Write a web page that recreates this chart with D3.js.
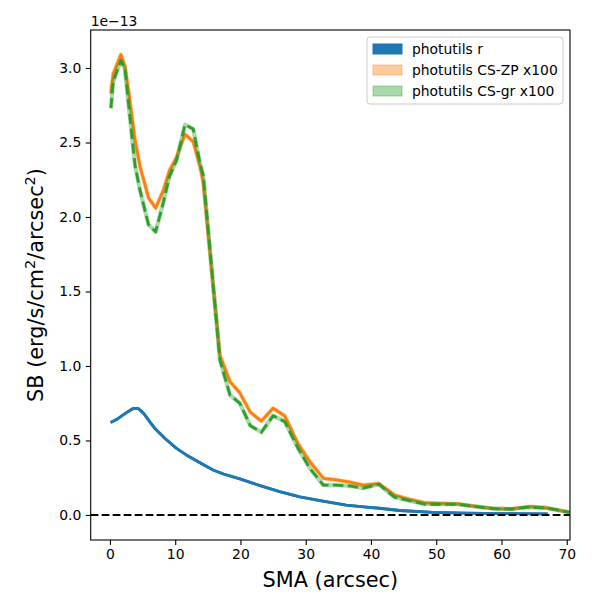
<!DOCTYPE html>
<html>
<head>
<meta charset="utf-8">
<script src="https://cdn.jsdelivr.net/npm/d3@7"></script>
<style>
  body { margin: 0; background: #fff; }
  text { font-family: "DejaVu Sans", sans-serif; fill: #000; }
</style>
</head>
<body>
<svg id="chart" width="600" height="600"></svg>
<script>
// surface brightness profiles, values in units of 1e-13
var smaR = [0.1, 1.0, 2.3, 3.6, 4.3, 5.2, 6.2, 6.9, 8.4, 10.2, 11.7, 13.8, 15.8, 17.4, 19.9,
            23.0, 26.0, 29.1, 32.2, 36.2, 39.3, 41.3, 44.4, 49.5, 54.6, 60.0, 67.1];
var sbR = [0.62, 0.64, 0.68, 0.716, 0.716, 0.68, 0.62, 0.58, 0.515, 0.447, 0.403, 0.351, 0.302, 0.275, 0.242,
           0.197, 0.157, 0.122, 0.096, 0.066, 0.053, 0.045, 0.03, 0.018, 0.012, 0.009, 0.007];

var smaCS = [0.15, 0.5, 1.68, 2.3, 3.06, 3.83, 4.6, 5.9, 7.0, 8.2, 9.1, 10.2, 11.5, 12.76, 13.8, 14.3,
             16.85, 18.4, 19.9, 21.5, 23.2, 25.0, 26.8, 28.8, 30.6, 32.7, 34.7, 36.8, 38.8, 41.2,
             43.6, 45.9, 48.2, 50.6, 53.3, 56.2, 59.0, 61.5, 64.3, 66.9, 70.4];
var sbZP = [2.83, 2.96, 3.09, 3.01, 2.78, 2.52, 2.34, 2.13, 2.06, 2.18, 2.31, 2.40, 2.555, 2.505, 2.34, 2.23,
            1.07, 0.895, 0.82, 0.69, 0.63, 0.716, 0.664, 0.48, 0.36, 0.246, 0.235, 0.22, 0.20, 0.21,
            0.134, 0.105, 0.083, 0.078, 0.074, 0.056, 0.042, 0.04, 0.056, 0.047, 0.018];
var sbGR = [2.73, 2.91, 3.05, 2.99, 2.67, 2.35, 2.18, 1.95, 1.90, 2.10, 2.27, 2.38, 2.62, 2.59, 2.36, 2.28,
            1.04, 0.805, 0.75, 0.60, 0.555, 0.666, 0.626, 0.45, 0.315, 0.20, 0.20, 0.195, 0.18, 0.206,
            0.119, 0.096, 0.072, 0.072, 0.072, 0.056, 0.042, 0.04, 0.053, 0.047, 0.018];

var xTicks = [0, 10, 20, 30, 40, 50, 60, 70];
var yTicks = [0.0, 0.5, 1.0, 1.5, 2.0, 2.5, 3.0];
var legendLabels = ["photutils r", "photutils CS-ZP x100", "photutils CS-gr x100"];

var axL = 90.7, axR = 570, axT = 30, axB = 540;
var svg = d3.select("#chart");

var x = d3.scaleLinear().domain([-2.95, 70.5]).range([axL, axR]);
var y = d3.scaleLinear().domain([-0.168, 3.255]).range([axB, axT]);

svg.append("clipPath").attr("id", "clip")
  .append("rect")
    .attr("x", axL).attr("y", axT)
    .attr("width", axR - axL).attr("height", axB - axT);

var plot = svg.append("g").attr("clip-path", "url(#clip)");

var line = d3.line()
  .x(function(d) { return x(d[0]); })
  .y(function(d) { return y(d[1]); });

var series = [
  {sma: smaR, sb: sbR, color: "#1f77b4", band: 1.0, bandW: 2.8, dash: null},
  {sma: smaCS, sb: sbZP, color: "#ff7f0e", band: 0.4, bandW: 4.2, dash: null},
  {sma: smaCS, sb: sbGR, color: "#2ca02c", band: 0.4, bandW: 4.2, dash: "10.3,4.5"}
];

series.forEach(function(s) {
  var pts = d3.zip(s.sma, s.sb);
  // thin error band under the line
  plot.append("path")
    .datum(pts)
    .attr("d", line)
    .style("fill", "none")
    .style("stroke", s.color)
    .style("stroke-opacity", s.band)
    .style("stroke-width", s.bandW)
    .style("stroke-linejoin", "round");
  plot.append("path")
    .datum(pts)
    .attr("d", line)
    .style("fill", "none")
    .style("stroke", s.color)
    .style("stroke-width", 2.8)
    .style("stroke-dasharray", s.dash)
    .style("stroke-linejoin", "round");
});

// zero line
plot.append("line")
  .attr("x1", axL).attr("x2", axR)
  .attr("y1", y(0)).attr("y2", y(0))
  .style("stroke", "#000")
  .style("stroke-width", 2.1)
  .style("stroke-dasharray", "7.7,3.3");

// axes
var xAxis = svg.append("g")
  .attr("transform", "translate(0," + axB + ")")
  .call(d3.axisBottom(x).tickValues(xTicks).tickSize(4.9).tickPadding(4.5).tickFormat(d3.format("d")));
var yAxis = svg.append("g")
  .attr("transform", "translate(" + axL + ",0)")
  .call(d3.axisLeft(y).tickValues(yTicks).tickSize(4.9).tickPadding(4.5).tickFormat(d3.format(".1f")));

[xAxis, yAxis].forEach(function(a) {
  a.select(".domain").remove();
  a.selectAll(".tick line").style("stroke", "#000").style("stroke-width", 1.1);
  a.selectAll(".tick text")
    .style("font-family", "DejaVu Sans")
    .style("font-size", "13.9px")
    .style("fill", "#000");
});

svg.append("rect")
  .attr("x", axL).attr("y", axT)
  .attr("width", axR - axL).attr("height", axB - axT)
  .style("fill", "none")
  .style("stroke", "#000")
  .style("stroke-width", 1.1);

// offset text
svg.append("text")
  .attr("x", axL).attr("y", 26)
  .style("font-size", "13.9px")
  .text("1e\u221213");

// axis labels
svg.append("text")
  .attr("x", (axL + axR) / 2).attr("y", 587)
  .style("font-size", "20.8px")
  .style("text-anchor", "middle")
  .text("SMA (arcsec)");

var yl = svg.append("text")
  .attr("transform", "translate(43," + ((axT + axB) / 2) + ") rotate(-90)")
  .style("font-size", "20.8px")
  .style("text-anchor", "middle");
yl.append("tspan").text("SB (erg/s/cm");
yl.append("tspan").attr("dy", -8).style("font-size", "14.5px").text("2");
yl.append("tspan").attr("dy", 8).text("/arcsec");
yl.append("tspan").attr("dy", -8).style("font-size", "14.5px").text("2");
yl.append("tspan").attr("dy", 8).text(")");

// legend
var lg = svg.append("g");
lg.append("rect")
  .attr("x", 367).attr("y", 37)
  .attr("width", 196).attr("height", 67)
  .attr("rx", 3)
  .style("fill", "#fff")
  .style("fill-opacity", 0.8)
  .style("stroke", "#ccc")
  .style("stroke-width", 1);

legendLabels.forEach(function(lab, i) {
  var s = series[i];
  var cy = 49 + i * 21;
  lg.append("rect")
    .attr("x", 373).attr("y", cy - 5)
    .attr("width", 29).attr("height", 10)
    .style("fill", s.color)
    .style("fill-opacity", s.band)
    .style("stroke", s.color)
    .style("stroke-opacity", s.band)
    .style("stroke-width", 1);
  lg.append("text")
    .attr("x", 412).attr("y", cy + 5)
    .style("font-size", "13.9px")
    .text(lab);
});
</script>
</body>
</html>
